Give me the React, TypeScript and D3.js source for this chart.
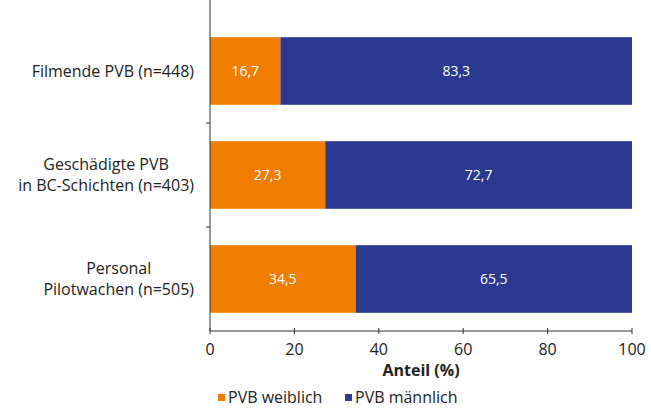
import React from "react";
import * as d3 from "d3";

const categories = ["Filmende PVB (n=448)", "Geschädigte PVB\nin BC-Schichten (n=403)", "Personal\nPilotwachen (n=505)"];
const weiblich = [16.7, 27.3, 34.5];
const maennlich = [83.3, 72.7, 65.5];
const xTicks = [0, 20, 40, 60, 80, 100];
const seriesNames = ["PVB weiblich", "PVB männlich"];
const colors = ["#F07D00", "#2B3990"];

const W = 651, H = 416;
const left = 210, right = 632, top = 19, bottom = 331;
const font = "'Open Sans', 'Noto Sans', sans-serif";

let ctx: CanvasRenderingContext2D | null = null;
function measure(s: string, size: number) {
  if (!ctx && typeof document !== "undefined") ctx = document.createElement("canvas").getContext("2d");
  if (!ctx) return s.length * size * 0.5;
  ctx.font = `${size}px 'Open Sans', 'Noto Sans', sans-serif`;
  return ctx.measureText(s).width;
}

export default function App() {
  const x = d3.scaleLinear().domain([0, 100]).range([left, right]);
  const y = d3.scaleBand().domain(categories).range([top, bottom]).paddingInner(0.35).paddingOuter(0.175);
  const fmt = (v: number) => v.toFixed(1).replace(".", ",");
  const boundaries = categories.slice(1).map((c) => (y(c) as number) - (y.step() * y.paddingInner()) / 2);
  return (
    <svg width={W} height={H} style={{ position: "absolute", left: 0, top: 0, background: "#fff" }} fontFamily={font}>
      {categories.map((c, i) => {
        const y0 = y(c) as number;
        const bh = y.bandwidth();
        const lines = c.split("\n");
        const blockW = Math.max(...lines.map((l) => measure(l, 16)));
        const cx = 194 - blockW / 2;
        return (
          <g key={c}>
            <rect x={x(0)} y={y0} width={x(weiblich[i]) - x(0)} height={bh} fill={colors[0]} />
            <rect x={x(weiblich[i])} y={y0} width={x(weiblich[i] + maennlich[i]) - x(weiblich[i])} height={bh} fill={colors[1]} />
            <text x={(x(0) + x(weiblich[i])) / 2} y={y0 + bh / 2} dy="0.35em" textAnchor="middle" fill="#fff" fontSize={14}>{fmt(weiblich[i])}</text>
            <text x={(x(weiblich[i]) + x(100)) / 2} y={y0 + bh / 2} dy="0.35em" textAnchor="middle" fill="#fff" fontSize={14}>{fmt(maennlich[i])}</text>
            {lines.map((l, j) => (
              <text key={j} x={cx} y={y0 + bh / 2 + (j - (lines.length - 1) / 2) * 21} dy="0.35em" textAnchor="middle" fontSize={16} fill="#222">{l}</text>
            ))}
          </g>
        );
      })}
      <line x1={left} x2={left} y1={0} y2={bottom} stroke="#333" strokeWidth={1} />
      {boundaries.map((b, i) => (
        <line key={i} x1={left - 4} x2={left} y1={b} y2={b} stroke="#333" />
      ))}
      <line x1={left} x2={right} y1={bottom} y2={bottom} stroke="#333" />
      {xTicks.map((t) => (
        <g key={t}>
          <line x1={x(t)} x2={x(t)} y1={bottom - 3} y2={bottom + 3} stroke="#333" />
          <text x={x(t)} y={bottom + 18} dy="0.35em" textAnchor="middle" fontSize={16} fill="#222">{t}</text>
        </g>
      ))}
      <text x={(left + right) / 2} y={370} dy="0.35em" textAnchor="middle" fontSize={16} fontWeight="bold" fill="#222">Anteil (%)</text>
      {seriesNames.map((s, i) => {
        const lx = i === 0 ? 218 : 345;
        return (
          <g key={s}>
            <rect x={lx} y={394} width={7} height={7} fill={colors[i]} />
            <text x={lx + 10} y={397} dy="0.35em" fontSize={16} fill="#222">{s}</text>
          </g>
        );
      })}
    </svg>
  );
}
